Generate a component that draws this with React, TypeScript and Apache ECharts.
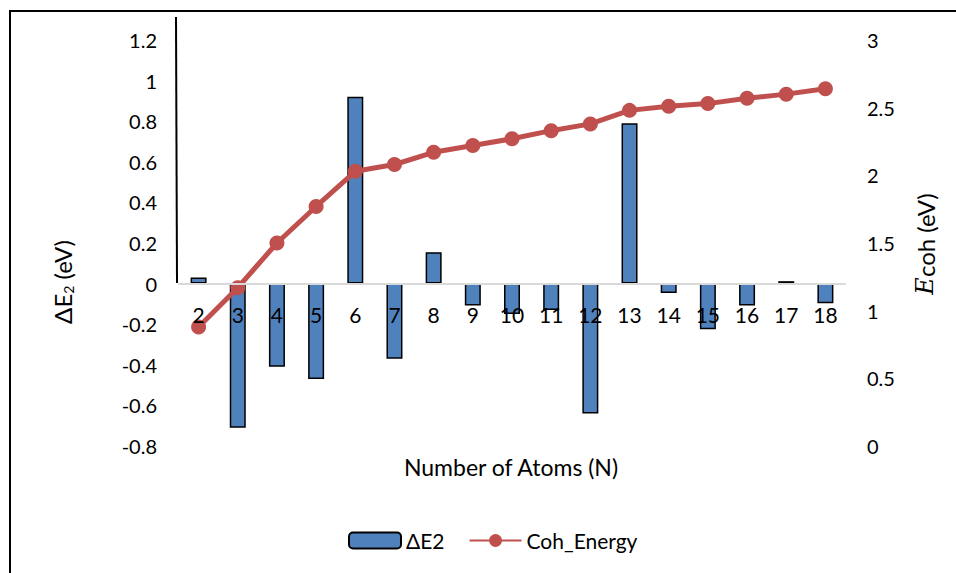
import React, { useEffect, useRef } from "react";
import * as echarts from "echarts";

const categories = ["2", "3", "4", "5", "6", "7", "8", "9", "10", "11", "12", "13", "14", "15", "16", "17", "18"];
const deltaE2 = [0.03, -0.71, -0.41, -0.47, 0.92, -0.37, 0.155, -0.108, -0.15, -0.13, -0.64, 0.79, -0.046, -0.225, -0.108, 0.012, -0.097];
const cohEnergy = [0.88, 1.17, 1.5, 1.77, 2.03, 2.08, 2.17, 2.22, 2.27, 2.33, 2.38, 2.48, 2.51, 2.53, 2.57, 2.6, 2.64];

const FONT = "Lato, 'Open Sans', sans-serif";

const GRID_TOP = 40;
const GRID_BOTTOM_Y = 446;
const LEFT_MIN = -0.8;
const LEFT_MAX = 1.2;

export default function App() {
  const ref = useRef<HTMLDivElement>(null);
  useEffect(() => {
    if (!ref.current) return;
    const chart = echarts.init(ref.current, undefined, { renderer: "svg" });
    const zeroY = GRID_TOP + (LEFT_MAX / (LEFT_MAX - LEFT_MIN)) * (GRID_BOTTOM_Y - GRID_TOP);
    chart.setOption({
      animation: false,
      backgroundColor: "#fff",
      textStyle: { fontFamily: FONT, color: "#000" },
      grid: { left: 179, right: 111, top: GRID_TOP, bottom: 573 - GRID_BOTTOM_Y },
      legend: {
        left: 343,
        top: 525,
        itemWidth: 52,
        itemHeight: 16,
        itemGap: 24,
        textStyle: { fontFamily: FONT, fontSize: 21, color: "#000" },
        data: ["ΔE2", "Coh_Energy"],
      },
      xAxis: {
        type: "category",
        data: categories,
        z: 10,
        offset: -(GRID_BOTTOM_Y - zeroY),
        axisLine: { onZero: false, lineStyle: { color: "#d9d9d9", width: 2 } },
        axisTick: { show: false },
        axisLabel: { margin: 20, fontSize: 21, color: "#000", fontFamily: FONT },
        splitLine: { show: false },
      },
      yAxis: [
        {
          type: "value",
          min: LEFT_MIN,
          max: LEFT_MAX,
          interval: 0.2,
          axisLine: { show: false },
          axisTick: { show: false },
          splitLine: { show: false },
          axisLabel: { margin: 22, fontSize: 20, color: "#000", fontFamily: FONT },
        },
        {
          type: "value",
          min: 0,
          max: 3,
          interval: 0.5,
          axisLine: { show: false, onZero: false },
          axisTick: { show: false },
          splitLine: { show: false },
          axisLabel: { margin: 22, fontSize: 20, color: "#000", fontFamily: FONT },
        },
      ],
      series: [
        {
          name: "ΔE2",
          type: "bar",
          data: deltaE2,
          barWidth: 16,
          itemStyle: { color: "#4f81bd", borderColor: "#000", borderWidth: 1.5 },
        },
        {
          name: "Coh_Energy",
          type: "line",
          yAxisIndex: 1,
          data: cohEnergy,
          symbol: "circle",
          symbolSize: 15,
          itemStyle: { color: "#c0504d" },
          lineStyle: { color: "#c0504d", width: 5 },
          z: 5,
        },
      ],
      graphic: [
        {
          type: "rect",
          shape: { x: 10, y: 11, width: 980, height: 600 },
          style: { fill: "none", stroke: "#000", lineWidth: 2 },
          silent: true,
        },
        {
          type: "line",
          shape: { x1: 176, y1: 17, x2: 177, y2: 283 },
          style: { stroke: "#000", lineWidth: 2 },
          silent: true,
        },
        {
          type: "text",
          x: 511,
          y: 467,
          style: {
            text: "Number of Atoms (N)",
            fontFamily: FONT,
            fontSize: 23,
            fill: "#000",
            align: "center",
            verticalAlign: "middle",
          },
        },
        {
          type: "text",
          x: 62,
          y: 282,
          rotation: Math.PI / 2,
          style: {
            text: "ΔE{sub|2} (eV)",
            fontFamily: FONT,
            fontSize: 24,
            fill: "#000",
            align: "center",
            verticalAlign: "middle",
            rich: {
              sub: { fontFamily: FONT, fontSize: 14, fill: "#000", padding: [13, 0, 0, 0] },
            },
          },
        },
        {
          type: "text",
          x: 925,
          y: 244,
          rotation: Math.PI / 2,
          style: {
            text: "{i|E}coh (eV)",
            fontFamily: FONT,
            fontSize: 24,
            fill: "#000",
            align: "center",
            verticalAlign: "middle",
            rich: {
              i: { fontFamily: "'DejaVu Serif', serif", fontStyle: "italic", fontSize: 24, fill: "#000" },
            },
          },
        },
      ],
    });
    return () => chart.dispose();
  }, []);
  return (
    <div
      ref={ref}
      style={{ position: "fixed", left: 0, top: 0, width: 956, height: 573 }}
    />
  );
}
